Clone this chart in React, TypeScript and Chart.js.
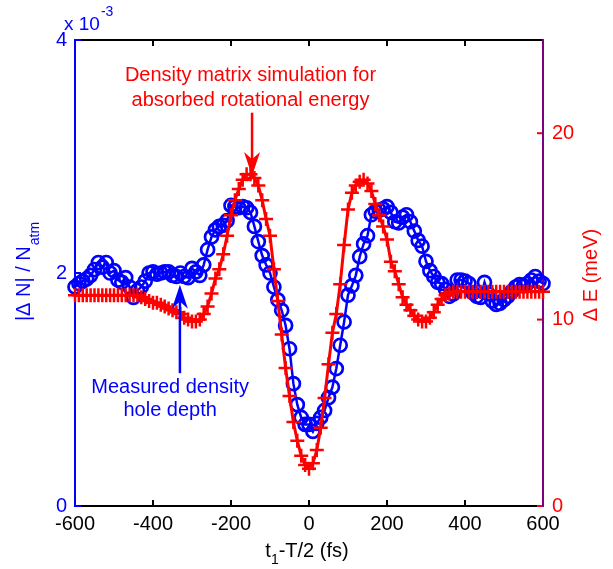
import React, { useEffect, useRef } from 'react';
import { Chart, registerables } from 'chart.js';

Chart.register(...registerables);

// time axis t1 - T/2 (fs)
const TIME_FS = [
  -600, -590, -580, -570, -560, -550, -540, -530, -520, -510,
  -500, -490, -480, -470, -460, -450, -440, -430, -420, -410,
  -400, -390, -380, -370, -360, -350, -340, -330, -320, -310,
  -300, -290, -280, -270, -260, -250, -240, -230, -220, -210,
  -200, -190, -180, -170, -160, -150, -140, -130, -120, -110,
  -100, -90, -80, -70, -60, -50, -40, -30, -20, -10,
  0, 10, 20, 30, 40, 50, 60, 70, 80, 90,
  100, 110, 120, 130, 140, 150, 160, 170, 180, 190,
  200, 210, 220, 230, 240, 250, 260, 270, 280, 290,
  300, 310, 320, 330, 340, 350, 360, 370, 380, 390,
  400, 410, 420, 430, 440, 450, 460, 470, 480, 490,
  500, 510, 520, 530, 540, 550, 560, 570, 580, 590,
  600,
];

// measured density hole depth |dN|/N_atm (x 10^-3), left axis
const DENSITY_E3 = [
  1.88, 1.91, 1.93, 1.95, 1.98, 2.03, 2.09, 2.05, 2.09, 2.00,
  2.02, 1.94, 1.92, 1.96, 1.88, 1.79, 1.85, 1.88, 1.93, 2.00,
  2.01, 1.99, 2.00, 2.01, 2.01, 1.98, 1.97, 2.00, 1.97, 1.96,
  2.04, 2.01, 1.98, 2.07, 2.20, 2.31, 2.37, 2.40, 2.41, 2.45,
  2.58, 2.57, 2.56, 2.57, 2.56, 2.52, 2.40, 2.27, 2.15, 2.07,
  2.00, 1.88, 1.77, 1.68, 1.55, 1.35, 1.05, 0.87, 0.76, 0.70,
  0.70, 0.64, 0.71, 0.76, 0.82, 0.93, 1.02, 1.18, 1.38, 1.58,
  1.81, 1.89, 1.98, 2.14, 2.25, 2.32, 2.50, 2.53, 2.54, 2.55,
  2.57, 2.52, 2.44, 2.43, 2.48, 2.50, 2.44, 2.36, 2.28, 2.23,
  2.10, 2.02, 1.97, 1.92, 1.91, 1.86, 1.80, 1.82, 1.94, 1.94,
  1.93, 1.91, 1.83, 1.80, 1.79, 1.92, 1.82, 1.76, 1.73, 1.74,
  1.77, 1.80, 1.84, 1.88, 1.90, 1.89, 1.91, 1.94, 1.97, 1.93,
  1.91,
];

// simulated absorbed rotational energy dE (meV), right axis
const ENERGY_MEV = [
  11.3, 11.3, 11.3, 11.3, 11.3, 11.3, 11.3, 11.3, 11.3, 11.3,
  11.3, 11.3, 11.3, 11.3, 11.3, 11.3, 11.3, 11.2, 11.1, 11.0,
  10.9, 10.9, 10.8, 10.7, 10.6, 10.5, 10.4, 10.3, 10.1, 10.0,
  9.9, 9.9, 10.0, 10.3, 10.7, 11.4, 12.2, 12.7, 13.5, 14.5,
  15.6, 16.4, 17.0, 17.5, 17.8, 17.8, 17.6, 17.2, 16.4, 15.4,
  14.5, 12.7, 11.0, 9.2, 7.4, 5.9, 4.5, 3.5, 2.7, 2.2,
  2.0, 2.3, 3.0, 4.2, 5.8, 7.6, 9.3, 10.3, 11.9, 14.0,
  15.9, 16.8, 17.2, 17.4, 17.5, 17.3, 16.9, 16.2, 15.6, 15.0,
  14.3, 13.1, 12.6, 11.9, 11.2, 10.8, 10.5, 10.2, 10.0, 9.9,
  9.9, 10.1, 10.4, 10.8, 11.1, 11.3, 11.4, 11.5, 11.5, 11.5,
  11.5, 11.5, 11.5, 11.5, 11.5, 11.5, 11.5, 11.5, 11.5, 11.5,
  11.5, 11.5, 11.5, 11.5, 11.5, 11.5, 11.5, 11.5, 11.5, 11.5,
  11.5,
];

const X_TICKS = [-600, -400, -200, 0, 200, 400, 600];
const LEFT_TICKS = [0, 2, 4];
const RIGHT_TICKS = [0, 10, 20];

const BLUE = '#0000ff';
const RED = '#ff0000';
const FONT = '"Liberation Sans", Arial, Helvetica, sans-serif';
const FS = 20;
const FS_SUB = 14;

export default function App() {
  const ref = useRef<HTMLCanvasElement>(null);

  useEffect(() => {
    const canvas = ref.current;
    if (!canvas) return;

    const seg = (ctx: CanvasRenderingContext2D, x1: number, y1: number, x2: number, y2: number, c: string, w = 2) => {
      ctx.strokeStyle = c;
      ctx.lineWidth = w;
      ctx.beginPath();
      ctx.moveTo(x1, y1);
      ctx.lineTo(x2, y2);
      ctx.stroke();
    };

    const framePlugin = {
      id: 'frame',
      beforeDatasetsDraw(chart: any) {
        const { ctx, chartArea: a, scales } = chart;
        const xs = scales.x, yl = scales.y, yr = scales.y2;
        ctx.save();
        seg(ctx, a.left, a.top, a.right, a.top, '#000');
        seg(ctx, a.left, a.bottom, a.right, a.bottom, '#000');
        X_TICKS.forEach((v) => {
          const px = xs.getPixelForValue(v);
          seg(ctx, px, a.bottom, px, a.bottom - 6, '#000');
          seg(ctx, px, a.top, px, a.top + 6, '#000');
        });
        LEFT_TICKS.forEach((v) => {
          const py = yl.getPixelForValue(v);
          seg(ctx, a.left, py, a.left + 6, py, BLUE);
        });
        RIGHT_TICKS.forEach((v) => {
          const py = yr.getPixelForValue(v);
          seg(ctx, a.right, py, a.right - 6, py, RED);
        });
        seg(ctx, a.left, a.top - 1, a.left, a.bottom + 1, BLUE);
        seg(ctx, a.right, a.top - 1, a.right, a.bottom + 1, BLUE);
        seg(ctx, a.right, a.top - 1, a.right, a.bottom + 1, RED, 1);
        ctx.restore();
      },
    };

    const arrow = (ctx: CanvasRenderingContext2D, x: number, yFrom: number, yTip: number, color: string) => {
      const dir = Math.sign(yTip - yFrom);
      const hl = 24, hw = 8;
      seg(ctx, x, yFrom, x, yTip - dir * hl * 0.7, color, 2.5);
      ctx.fillStyle = color;
      ctx.beginPath();
      ctx.moveTo(x, yTip);
      ctx.lineTo(x - hw, yTip - dir * hl);
      ctx.lineTo(x, yTip - dir * hl * 0.7);
      ctx.lineTo(x + hw, yTip - dir * hl);
      ctx.closePath();
      ctx.fill();
    };

    const annotPlugin = {
      id: 'annot',
      afterDraw(chart: any) {
        const { ctx, scales } = chart;
        const xs = scales.x, yl = scales.y, yr = scales.y2;
        ctx.save();

        // red annotation
        ctx.font = `${FS}px ${FONT}`;
        ctx.textAlign = 'center';
        ctx.textBaseline = 'middle';
        ctx.fillStyle = RED;
        const rx = xs.getPixelForValue(-150);
        ctx.fillText('Density matrix simulation for', rx, yr.getPixelForValue(23.1));
        ctx.fillText('absorbed rotational energy', rx, yr.getPixelForValue(21.75));
        arrow(ctx, xs.getPixelForValue(-146), yr.getPixelForValue(21.1), yr.getPixelForValue(17.7), RED);

        // blue annotation
        ctx.fillStyle = BLUE;
        const bx = xs.getPixelForValue(-356);
        ctx.fillText('Measured density', bx, yl.getPixelForValue(1.02));
        ctx.fillText('hole depth', bx, yl.getPixelForValue(0.82));
        arrow(ctx, xs.getPixelForValue(-331), yl.getPixelForValue(1.14), yl.getPixelForValue(1.9), BLUE);

        // x 10^-3
        ctx.textAlign = 'left';
        ctx.textBaseline = 'alphabetic';
        ctx.fillStyle = BLUE;
        ctx.font = `${FS - 1}px ${FONT}`;
        ctx.fillText('x 10', 64, 30);
        const w10 = ctx.measureText('x 10').width;
        ctx.font = `${FS_SUB}px ${FONT}`;
        ctx.fillText('-3', 64 + w10 + 1, 16);

        // left title
        ctx.save();
        ctx.translate(30, 272);
        ctx.rotate(-Math.PI / 2);
        ctx.font = `${FS}px ${FONT}`;
        const mainL = '|\u0394 N| / N';
        const wl1 = ctx.measureText(mainL).width;
        ctx.font = `${FS_SUB}px ${FONT}`;
        const wl2 = ctx.measureText('atm').width;
        const sl = -(wl1 + wl2) / 2;
        ctx.fillStyle = BLUE;
        ctx.font = `${FS}px ${FONT}`;
        ctx.fillText(mainL, sl, 0);
        ctx.font = `${FS_SUB}px ${FONT}`;
        ctx.fillText('atm', sl + wl1 + 1, 9);
        ctx.restore();

        // right title
        ctx.save();
        ctx.translate(597, 275);
        ctx.rotate(-Math.PI / 2);
        ctx.font = `${FS}px ${FONT}`;
        ctx.textAlign = 'center';
        ctx.fillStyle = RED;
        ctx.fillText('\u0394 E (meV)', 0, 0);
        ctx.restore();

        // bottom title
        ctx.fillStyle = '#000';
        ctx.font = `${FS}px ${FONT}`;
        const wt = ctx.measureText('t').width;
        const wrest = ctx.measureText('-T/2 (fs)').width;
        ctx.font = `${FS_SUB}px ${FONT}`;
        const w1 = ctx.measureText('1').width;
        let sx = 307 - (wt + w1 + wrest) / 2;
        const by = 557;
        ctx.font = `${FS}px ${FONT}`;
        ctx.fillText('t', sx, by);
        sx += wt;
        ctx.font = `${FS_SUB}px ${FONT}`;
        ctx.fillText('1', sx, by + 7);
        sx += w1;
        ctx.font = `${FS}px ${FONT}`;
        ctx.fillText('-T/2 (fs)', sx, by);

        ctx.restore();
      },
    };

    const blueData = TIME_FS.map((t, i) => ({ x: t, y: DENSITY_E3[i] }));
    const redData = TIME_FS.map((t, i) => ({ x: t, y: ENERGY_MEV[i] }));

    const chart = new Chart(canvas, {
      type: 'line',
      data: {
        datasets: [
          {
            label: 'Density matrix simulation',
            data: redData,
            yAxisID: 'y2',
            borderColor: RED,
            borderWidth: 3,
            pointStyle: 'cross',
            pointRadius: 7,
            pointBorderWidth: 2.5,
            pointBorderColor: RED,
            pointBackgroundColor: RED,
            tension: 0,
            clip: false,
          } as any,
          {
            label: 'Measured density hole depth',
            data: blueData,
            yAxisID: 'y',
            borderColor: BLUE,
            borderWidth: 2.5,
            pointStyle: 'circle',
            pointRadius: 6.5,
            pointBorderWidth: 2.7,
            pointBorderColor: BLUE,
            pointBackgroundColor: 'rgba(0,0,0,0)',
            tension: 0,
            clip: false,
          } as any,
        ],
      },
      options: {
        responsive: false,
        animation: false,
        events: [],
        layout: { padding: { top: 40, left: 0, right: 0, bottom: 0 } },
        plugins: {
          legend: { display: false },
          title: { display: false },
          tooltip: { enabled: false },
        },
        scales: {
          x: {
            type: 'linear',
            min: -600,
            max: 600,
            afterBuildTicks: (s: any) => {
              s.ticks = X_TICKS.map((v) => ({ value: v }));
            },
            afterFit: (s: any) => {
              s.height = 63;
            },
            ticks: {
              color: '#000',
              font: { size: FS, family: FONT },
              padding: 6,
              maxRotation: 0,
              autoSkip: false,
            },
            grid: { display: false, drawTicks: false },
            border: { display: false },
          },
          y: {
            type: 'linear',
            position: 'left',
            min: 0,
            max: 4,
            afterBuildTicks: (s: any) => {
              s.ticks = LEFT_TICKS.map((v) => ({ value: v }));
            },
            afterFit: (s: any) => {
              s.width = 75;
            },
            ticks: {
              color: BLUE,
              font: { size: FS, family: FONT },
              padding: 8,
            },
            grid: { display: false, drawTicks: false },
            border: { display: false },
          },
          y2: {
            type: 'linear',
            position: 'right',
            min: 0,
            max: 25,
            afterBuildTicks: (s: any) => {
              s.ticks = RIGHT_TICKS.map((v) => ({ value: v }));
            },
            afterFit: (s: any) => {
              s.width = 70;
            },
            ticks: {
              color: RED,
              font: { size: FS, family: FONT },
              padding: 9,
            },
            grid: { display: false, drawTicks: false },
            border: { display: false },
          },
        },
      } as any,
      plugins: [framePlugin, annotPlugin],
    });

    return () => chart.destroy();
  }, []);

  return (
    <div style={{ position: 'absolute', left: 0, top: 0, width: 613, height: 569, background: '#fff' }}>
      <canvas ref={ref} width={613} height={569} style={{ display: 'block' }} />
    </div>
  );
}
